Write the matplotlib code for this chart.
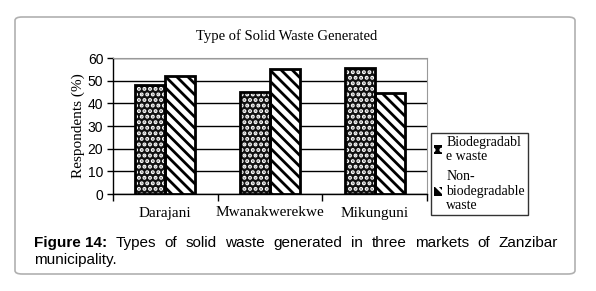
import numpy as np
import matplotlib
matplotlib.use("Agg")
import matplotlib.pyplot as plt
from matplotlib.patches import FancyBboxPatch, Patch

# dati
markets = ["Darajani", "Mwanakwerekwe", "Mikunguni"]
biodegradable = [48, 45, 55.5]
non_biodegradable = [52, 55, 44.5]
series_labels = ["Biodegradabl\ne waste", "Non-\nbiodegradable\nwaste"]
yticks = [0, 10, 20, 30, 40, 50, 60]

title = "Type of Solid Waste Generated"
ylabel = "Respondents (%)"
caption_bold = "Figure 14:"
caption_line1 = "Types of solid waste generated in three markets of Zanzibar"
caption_line2 = "municipality."

W, H = 596, 291
plt.rcParams['hatch.linewidth'] = 2.0
serif = "Liberation Serif"
sans = "Liberation Sans"

fig = plt.figure(figsize=(W / 100, H / 100), dpi=100)

# riquadro esterno arrotondato
box = FancyBboxPatch((15 / W, 1 - 274 / H), 560 / W, 257 / H,
                     boxstyle="round,pad=0,rounding_size=0.012",
                     transform=fig.transFigure, facecolor="none",
                     edgecolor="#b0b0b0", linewidth=1.2, zorder=-1)
fig.patches.append(box)

ax = fig.add_axes([113 / W, 1 - 194 / H, 314 / W, 136 / H])
ax.patch.set_alpha(0)
x = np.arange(len(markets))
width = 0.287

# barre: sfondo nero con punti bianchi / bianco con righe nere
ax.bar(x - width / 2, biodegradable, width, facecolor="#111111", edgecolor="white",
       hatch="...", linewidth=0, zorder=3)
ax.bar(x - width / 2, biodegradable, width, facecolor="none", edgecolor="black",
       linewidth=2, zorder=4)
ax.bar(x + width / 2, non_biodegradable, width, facecolor="white", edgecolor="black",
       hatch="\\\\\\", linewidth=2, zorder=3)

ax.set_xlim(-0.5, 2.5)
ax.set_ylim(0, 60)
ax.set_yticks(yticks)
ax.set_yticklabels([str(t) for t in yticks], fontfamily=sans, fontsize=10)
ax.set_xticks(x)
ax.set_xticklabels(markets, fontfamily=serif, fontsize=11)
ax.tick_params(axis="x", length=0, pad=9)
ax.set_xticks([-0.5, 0.5, 1.5, 2.5], minor=True)
ax.tick_params(axis="x", which="minor", length=5, width=1, direction="out")
ax.tick_params(axis="y", length=4, width=1, direction="out", pad=3)
ax.grid(axis="y", color="black", linewidth=1, zorder=0)
ax.set_axisbelow(True)
for s in ["top", "right"]:
    ax.spines[s].set_color("#999999")
ax.spines["left"].set_linewidth(1)
ax.spines["bottom"].set_linewidth(1)
ax.set_ylabel(ylabel, fontfamily=serif, fontsize=11, labelpad=2)

fig.text(287 / W, 1 - 36 / H, title, ha="center", va="center",
         fontfamily=serif, fontsize=10.5)

# legenda
handles = [Patch(facecolor="black", edgecolor="white", hatch="..", linewidth=0),
           Patch(facecolor="black", edgecolor="white", hatch="\\\\", linewidth=0)]
leg = fig.legend(handles, series_labels, loc="upper left",
                 bbox_to_anchor=(431 / W, 1 - 133 / H), frameon=True,
                 fancybox=False, prop={"family": serif, "size": 10},
                 handlelength=0.6, handleheight=0.6, handletextpad=0.3,
                 borderpad=0.2, labelspacing=0.5, borderaxespad=0)
leg.get_frame().set_edgecolor("black")
leg.get_frame().set_linewidth(1)
for txt in leg.get_texts():
    txt.set_linespacing(1.15)

# didascalia giustificata
fig.canvas.draw()
renderer = fig.canvas.get_renderer()
x_left, x_right = 34, 558
y1, y2 = 1 - 247 / H, 1 - 264 / H
words = [(caption_bold, "bold")] + [(w, "normal") for w in caption_line1.split()]
items = []
for w, weight in words:
    t = fig.text(0, y1, w, fontfamily=sans, fontsize=11, fontweight=weight, va="baseline")
    items.append(t)
widths = [t.get_window_extent(renderer).width for t in items]
gap = (x_right - x_left - sum(widths)) / (len(items) - 1)
pos = x_left
for t, wd in zip(items, widths):
    t.set_x(pos / W)
    pos += wd + gap
fig.text(x_left / W, y2, caption_line2, fontfamily=sans, fontsize=11, va="baseline")

fig.savefig("out.png", dpi=100)
